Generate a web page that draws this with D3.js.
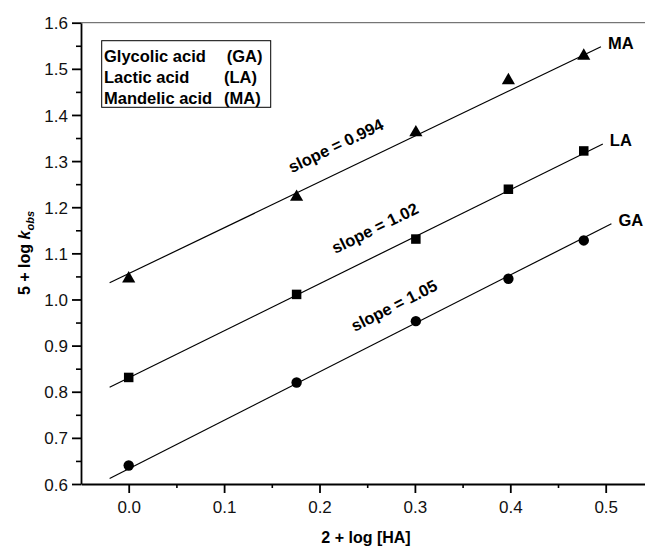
<!DOCTYPE html>
<html>
<head>
<meta charset="utf-8">
<script src="https://cdn.jsdelivr.net/npm/d3@7"></script>
<style>
  body { margin: 0; background: #fff; }
  svg { display: block; font-family: "Liberation Sans", Arial, Helvetica, sans-serif; }
</style>
</head>
<body>
<script>
// 2 + log [HA] values (x) and 5 + log kobs for each acid
var haValues = [0.0, 0.176, 0.301, 0.398, 0.477];
var gaValues = [0.640, 0.820, 0.953, 1.045, 1.128];
var laValues = [0.831, 1.011, 1.131, 1.239, 1.322];
var maValues = [1.045, 1.222, 1.362, 1.475, 1.528];

var seriesCodes = ['GA', 'LA', 'MA'];
var seriesNames = ['Glycolic acid', 'Lactic acid', 'Mandelic acid'];
var slopes = [1.05, 1.02, 0.994];
var intercepts = [0.633, 0.830, 1.056];
var fitStart = [-0.02, -0.02, -0.02];
var fitEnd = [0.506, 0.497, 0.495];
var slopeLabelX = [0.237, 0.2166, 0.171];

var xTicks = [0.0, 0.1, 0.2, 0.3, 0.4, 0.5];
var yTicks = [0.6, 0.7, 0.8, 0.9, 1.0, 1.1, 1.2, 1.3, 1.4, 1.5, 1.6];

var width = 645;
var height = 547;

var svg = d3.select('body').append('svg')
    .attr('width', width)
    .attr('height', height);

var x = d3.scaleLinear().domain([-0.05, 0.55]).range([81, 653.4]);
var y = d3.scaleLinear().domain([0.6, 1.6]).range([484, 22.7]);

// top frame line
svg.append('line')
    .attr('x1', x(-0.05)).attr('x2', x(0.55))
    .attr('y1', y(1.6)).attr('y2', y(1.6))
    .attr('stroke', '#555').attr('stroke-width', 1);

// minor ticks
var xMinor = d3.range(0.05, 0.56, 0.1);
var yMinor = d3.range(0.65, 1.6, 0.1);

svg.append('g')
    .attr('transform', 'translate(0,' + y(0.6) + ')')
    .call(d3.axisBottom(x).tickValues(xMinor).tickSize(4).tickFormat(''))
    .call(function(g) { g.select('.domain').remove(); })
    .selectAll('line').attr('stroke-width', 1.6);

svg.append('g')
    .attr('transform', 'translate(' + x(-0.05) + ',0)')
    .call(d3.axisLeft(y).tickValues(yMinor).tickSize(5).tickFormat(''))
    .call(function(g) { g.select('.domain').remove(); })
    .selectAll('line').attr('stroke-width', 1.6);

// main axes
var xAxis = svg.append('g')
    .attr('transform', 'translate(0,' + y(0.6) + ')')
    .call(d3.axisBottom(x).tickValues(xTicks).tickSize(9).tickSizeOuter(0)
        .tickPadding(8).tickFormat(d3.format('.1f')));

var yAxis = svg.append('g')
    .attr('transform', 'translate(' + x(-0.05) + ',0)')
    .call(d3.axisLeft(y).tickValues(yTicks).tickSize(9).tickSizeOuter(0)
        .tickPadding(4).tickFormat(d3.format('.1f')));

[xAxis, yAxis].forEach(function(a) {
    a.select('.domain').attr('stroke-width', 1.8).attr('stroke', '#000');
    a.selectAll('.tick line').attr('stroke-width', 1.8);
    a.selectAll('.tick text')
        .attr('font-size', 17)
        .attr('font-family', '"Liberation Sans", Arial, sans-serif')
        .attr('fill', '#111');
});
yAxis.selectAll('.tick text').attr('dy', '0.36em');

// axis titles
svg.append('text')
    .attr('x', 366).attr('y', 543)
    .attr('text-anchor', 'middle')
    .attr('font-size', 16)
    .attr('font-weight', 'bold')
    .text('2 + log [HA]');

var yt = svg.append('text')
    .attr('transform', 'translate(30,253) rotate(-90)')
    .attr('text-anchor', 'middle')
    .attr('font-size', 16)
    .attr('font-weight', 'bold');
yt.append('tspan').text('5 + log ');
yt.append('tspan').attr('font-style', 'italic').text('k');
yt.append('tspan').attr('font-style', 'italic').attr('font-size', 11)
    .attr('dy', 4).text('obs');

// fitted lines
seriesCodes.forEach(function(code, i) {
    var f = function(v) { return intercepts[i] + slopes[i] * v; };
    var x1 = x(fitStart[i]), y1 = y(f(fitStart[i]));
    var x2 = x(fitEnd[i]), y2 = y(f(fitEnd[i]));

    svg.append('line')
        .attr('x1', x1).attr('y1', y1)
        .attr('x2', x2).attr('y2', y2)
        .attr('stroke', '#000').attr('stroke-width', 1.2);

    svg.append('text')
        .attr('x', x2 + 7).attr('y', y2 + 2)
        .attr('font-size', 16.5)
        .attr('font-weight', 'bold')
        .text(code);

    var angle = Math.atan2(y2 - y1, x2 - x1) * 180 / Math.PI;
    var lx = x(slopeLabelX[i]);
    var ly = y(f(slopeLabelX[i])) - 22;
    svg.append('text')
        .attr('transform', 'translate(' + lx + ',' + ly + ') rotate(' + angle + ')')
        .attr('font-size', 16.5)
        .attr('font-weight', 'bold')
        .text('slope = ' + slopes[i]);
});

// markers
svg.selectAll('.ga').data(haValues).enter().append('circle')
    .attr('cx', function(d) { return x(d); })
    .attr('cy', function(d, j) { return y(gaValues[j]); })
    .attr('r', 5.2)
    .attr('fill', '#000');

svg.selectAll('.la').data(haValues).enter().append('rect')
    .attr('x', function(d) { return x(d) - 4.75; })
    .attr('y', function(d, j) { return y(laValues[j]) - 4.75; })
    .attr('width', 9.5).attr('height', 9.5)
    .attr('fill', '#000');

var tri = d3.symbol().type(d3.symbolTriangle).size(75);
svg.selectAll('.ma').data(haValues).enter().append('path')
    .attr('d', tri)
    .attr('transform', function(d, j) {
        return 'translate(' + x(d) + ',' + y(maValues[j]) + ')';
    })
    .attr('fill', '#000');

// legend box
svg.append('rect')
    .attr('x', 101.7).attr('y', 40.7)
    .attr('width', 169).attr('height', 66.6)
    .attr('fill', 'none').attr('stroke', '#000').attr('stroke-width', 1);

var codeX = [226.7, 224, 224];
seriesNames.forEach(function(name, i) {
    var by = 61.5 + i * 21;
    svg.append('text')
        .attr('x', 104).attr('y', by)
        .attr('font-size', 16.5).attr('font-weight', 'bold')
        .text(name);
    svg.append('text')
        .attr('x', codeX[i]).attr('y', by)
        .attr('font-size', 16.5).attr('font-weight', 'bold')
        .text('(' + seriesCodes[i] + ')');
});
</script>
</body>
</html>
